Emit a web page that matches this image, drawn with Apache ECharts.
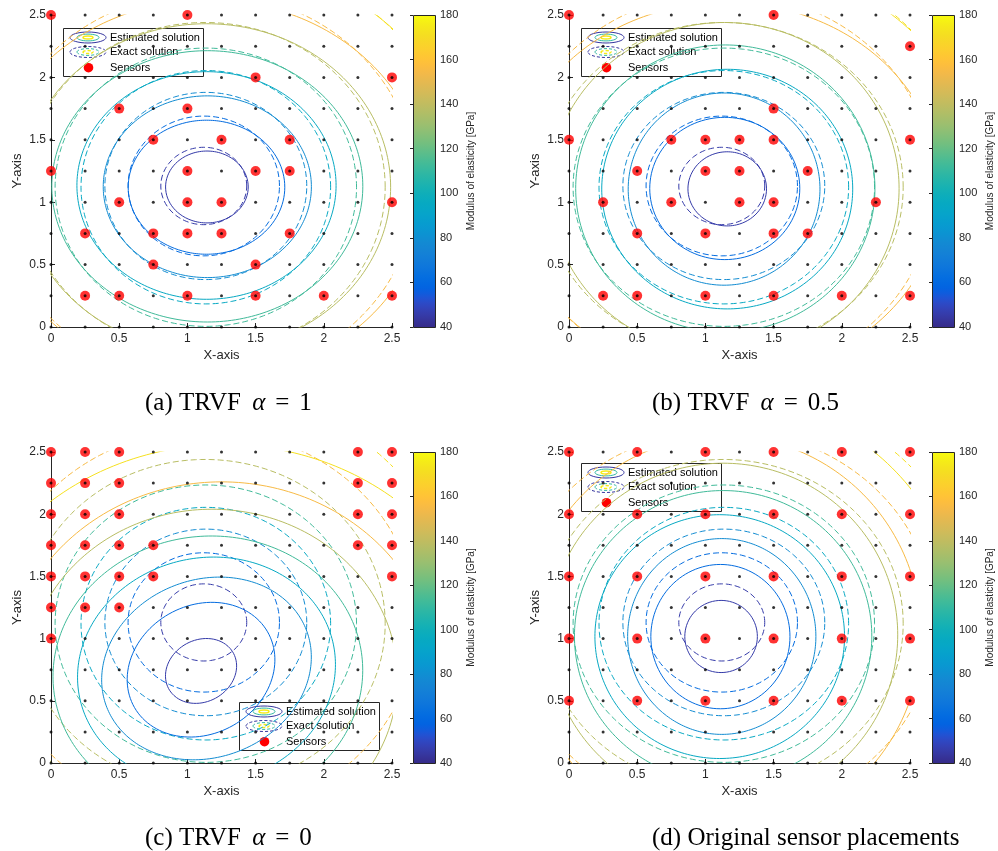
<!DOCTYPE html>
<html>
<head>
<meta charset="utf-8">
<script src="https://cdn.jsdelivr.net/npm/echarts@6/dist/echarts.min.js"></script>
<style>
  html, body { margin: 0; padding: 0; background: #ffffff; }
  #chart { width: 998px; height: 851px; }
</style>
</head>
<body>
<div id="chart"></div>
<script>
// ---------------- data ----------------
// measurement grid (black dots), both directions
const gridPos = [0, 0.25, 0.5, 0.75, 1, 1.25, 1.5, 1.75, 2, 2.25, 2.5];

// contour levels of the modulus of elasticity [GPa]
const contourLevels = [46, 62, 79, 95, 113, 138, 155, 172];
const colorRange = [40, 180];

// contour rings: [level, centerX, centerY, radiusX, radiusY, tiltDeg]
const exactRings = [
  [46, 1.12, 1.13, 0.315, 0.31, 0],
  [62, 1.12, 1.13, 0.555, 0.56, 0],
  [79, 1.135, 1.13, 0.74, 0.75, 0],
  [95, 1.135, 1.12, 0.915, 0.935, 0],
  [113, 1.135, 1.12, 1.105, 1.115, 0],
  [138, 1.13, 1.12, 1.32, 1.32, 0],
  [155, 1.13, 1.13, 1.55, 1.55, 0],
  [172, 1.13, 1.13, 1.86, 1.86, 0]
];
const ringsA = [
  [46, 1.143, 1.122, 0.303, 0.288, 0],
  [62, 1.14, 1.12, 0.574, 0.537, 0],
  [79, 1.146, 1.124, 0.763, 0.728, 0],
  [95, 1.14, 1.134, 0.95, 0.912, 0],
  [113, 1.146, 1.127, 1.14, 1.087, 0],
  [138, 1.14, 1.12, 1.35, 1.31, 0],
  [155, 1.15, 1.10, 1.60, 1.52, 0],
  [172, 1.15, 1.10, 1.90, 1.84, 0]
];
const ringsB = [
  [46, 1.16, 1.107, 0.288, 0.297, 0],
  [62, 1.142, 1.11, 0.55, 0.57, 0],
  [79, 1.137, 1.105, 0.703, 0.77, 0],
  [95, 1.16, 1.105, 0.92, 0.96, 0],
  [113, 1.146, 1.11, 1.097, 1.15, 0],
  [138, 1.14, 1.11, 1.28, 1.33, 0],
  [155, 1.15, 1.10, 1.58, 1.50, 0],
  [172, 1.15, 1.10, 1.88, 1.84, 0]
];
const ringsC = [
  [46, 1.10, 0.74, 0.28, 0.24, 45],
  [62, 1.10, 0.75, 0.58, 0.50, 45],
  [79, 1.14, 0.76, 0.80, 0.70, 35],
  [95, 1.14, 0.74, 0.96, 0.90, 30],
  [113, 1.15, 0.72, 1.14, 1.10, 20],
  [138, 1.18, 0.68, 1.36, 1.36, 0],
  [155, 1.25, 0.65, 1.59, 1.61, 0],
  [172, 1.27, 0.56, 2.0, 2.0, 0]
];
const ringsD = [
  [46, 1.115, 1.017, 0.266, 0.29, 0],
  [62, 1.11, 1.016, 0.51, 0.58, 0],
  [79, 1.12, 1.017, 0.69, 0.787, 0],
  [95, 1.105, 1.016, 0.915, 0.98, 0],
  [113, 1.13, 1.02, 1.09, 1.17, 0],
  [138, 1.13, 1.03, 1.28, 1.38, 0],
  [155, 1.13, 1.03, 1.45, 1.60, 0],
  [172, 1.13, 1.03, 1.75, 1.90, 0]
];

// sensor positions [x, y]
const sensorsA = [
  [0, 2.5], [1, 2.5], [1.5, 2], [2.5, 2], [0.5, 1.75], [1, 1.75],
  [0.75, 1.5], [1.25, 1.5], [1.75, 1.5], [0, 1.25], [1, 1.25], [1.5, 1.25], [1.75, 1.25],
  [0.5, 1], [1, 1], [1.25, 1], [2.5, 1],
  [0.25, 0.75], [0.75, 0.75], [1, 0.75], [1.25, 0.75], [1.75, 0.75],
  [0.75, 0.5], [1.5, 0.5],
  [0.25, 0.25], [0.5, 0.25], [1, 0.25], [1.5, 0.25], [2, 0.25], [2.5, 0.25]
];
const sensorsB = [
  [0, 2.5], [1.5, 2.5], [2.5, 2.25], [1.5, 1.75],
  [0, 1.5], [0.75, 1.5], [1, 1.5], [1.25, 1.5], [1.5, 1.5], [2.5, 1.5],
  [0.5, 1.25], [1, 1.25], [1.25, 1.25], [1.75, 1.25],
  [0.25, 1], [0.75, 1], [1.25, 1], [1.5, 1], [2.25, 1],
  [0.5, 0.75], [1, 0.75], [1.5, 0.75], [1.75, 0.75],
  [0.25, 0.25], [0.5, 0.25], [1, 0.25], [1.5, 0.25], [2, 0.25], [2.5, 0.25]
];
const sensorsC = [
  [0, 2.5], [0.25, 2.5], [0.5, 2.5], [2.25, 2.5], [2.5, 2.5],
  [0, 2.25], [0.25, 2.25], [0.5, 2.25], [2.25, 2.25], [2.5, 2.25],
  [0, 2], [0.25, 2], [0.5, 2], [2.25, 2], [2.5, 2],
  [0, 1.75], [0.25, 1.75], [0.5, 1.75], [0.75, 1.75], [2.25, 1.75], [2.5, 1.75],
  [0, 1.5], [0.25, 1.5], [0.5, 1.5], [0.75, 1.5], [2.5, 1.5],
  [0, 1.25], [0.25, 1.25], [0.5, 1.25],
  [0, 1]
];
const sensorsD = [
  [0, 2.5], [0.5, 2.5], [1, 2.5], [1.5, 2.5], [2, 2.5], [2.5, 2.5],
  [0, 2], [0.5, 2], [1, 2], [1.5, 2], [2, 2], [2.5, 2],
  [0, 1.5], [0.5, 1.5], [1, 1.5], [1.5, 1.5], [2, 1.5], [2.5, 1.5],
  [0, 1], [0.5, 1], [1, 1], [1.5, 1], [2, 1], [2.5, 1],
  [0, 0.5], [0.5, 0.5], [1, 0.5], [1.5, 0.5], [2, 0.5], [2.5, 0.5]
];

const legendLabels = ['Estimated solution', 'Exact solution', 'Sensors'];
const captionTexts = [
  ['(a) TRVF ', '1'],
  ['(b) TRVF ', '0.5'],
  ['(c) TRVF ', '0'],
  ['(d) Original sensor placements', null]
];

// ---------------- colormap (parula) ----------------
const parulaRows = [
  [0.2081,0.1663,0.5292],[0.2116,0.1898,0.5777],[0.2123,0.2138,0.6270],[0.2081,0.2386,0.6771],
  [0.1959,0.2645,0.7279],[0.1707,0.2919,0.7792],[0.1253,0.3242,0.8303],[0.0591,0.3598,0.8683],
  [0.0117,0.3875,0.8820],[0.0060,0.4086,0.8828],[0.0165,0.4266,0.8786],[0.0329,0.4430,0.8720],
  [0.0498,0.4586,0.8641],[0.0629,0.4737,0.8554],[0.0723,0.4887,0.8467],[0.0779,0.5040,0.8384],
  [0.0793,0.5200,0.8312],[0.0749,0.5375,0.8263],[0.0641,0.5570,0.8240],[0.0488,0.5772,0.8228],
  [0.0343,0.5966,0.8199],[0.0265,0.6137,0.8135],[0.0239,0.6287,0.8038],[0.0231,0.6418,0.7913],
  [0.0228,0.6535,0.7768],[0.0267,0.6642,0.7607],[0.0384,0.6743,0.7436],[0.0590,0.6838,0.7254],
  [0.0843,0.6928,0.7062],[0.1133,0.7015,0.6859],[0.1453,0.7098,0.6646],[0.1801,0.7177,0.6424],
  [0.2178,0.7250,0.6193],[0.2586,0.7317,0.5954],[0.3022,0.7376,0.5712],[0.3482,0.7424,0.5473],
  [0.3953,0.7459,0.5244],[0.4420,0.7481,0.5033],[0.4871,0.7491,0.4840],[0.5300,0.7491,0.4661],
  [0.5709,0.7485,0.4494],[0.6099,0.7473,0.4337],[0.6473,0.7456,0.4188],[0.6834,0.7435,0.4044],
  [0.7184,0.7411,0.3905],[0.7525,0.7384,0.3768],[0.7858,0.7356,0.3633],[0.8185,0.7327,0.3498],
  [0.8507,0.7299,0.3360],[0.8824,0.7274,0.3217],[0.9139,0.7258,0.3063],[0.9450,0.7261,0.2886],
  [0.9739,0.7314,0.2666],[0.9938,0.7455,0.2403],[0.9990,0.7653,0.2164],[0.9955,0.7861,0.1967],
  [0.9880,0.8066,0.1794],[0.9789,0.8271,0.1633],[0.9697,0.8481,0.1475],[0.9626,0.8705,0.1309],
  [0.9589,0.8949,0.1132],[0.9598,0.9218,0.0948],[0.9661,0.9514,0.0755],[0.9763,0.9831,0.0538]
];
function parula(t) {
  t = Math.max(0, Math.min(1, t));
  const f = t * (parulaRows.length - 1);
  const i = Math.floor(f);
  const j = Math.min(i + 1, parulaRows.length - 1);
  const w = f - i;
  const c = parulaRows[i].map((v, k) => Math.round(255 * (v + (parulaRows[j][k] - v) * w)));
  return 'rgb(' + c.join(',') + ')';
}
function levelColor(level) {
  return parula((level - colorRange[0]) / (colorRange[1] - colorRange[0]));
}
const colorbarStops = parulaRows.map((r, k) => ({
  offset: k / (parulaRows.length - 1),
  color: 'rgb(' + r.map(v => Math.round(v * 255)).join(',') + ')'
}));

// ---------------- helpers ----------------
function ringPoints(ring) {
  const [, cx, cy, rx, ry, tilt] = ring;
  const th = tilt * Math.PI / 180;
  const n = 240;
  const pts = [];
  for (let k = 0; k <= n; k++) {
    const a = 2 * Math.PI * k / n;
    const ex = rx * Math.cos(a), ey = ry * Math.sin(a);
    pts.push([cx + ex * Math.cos(th) - ey * Math.sin(th), cy + ex * Math.sin(th) + ey * Math.cos(th)]);
  }
  return pts;
}

const AXIS_COLOR = '#262626';
const SANS = 'Liberation Sans, Arial, Helvetica, sans-serif';
const SERIF = '"Liberation Serif", "Times New Roman", serif';

const panels = [
  { rings: ringsA, sensors: sensorsA, grid: { left: 51, top: 15, width: 341, height: 312 },
    cbar: { left: 413, top: 15, width: 22, height: 312 }, legend: [63, 28], caption: [145, 403] },
  { rings: ringsB, sensors: sensorsB, grid: { left: 569, top: 15, width: 341, height: 312 },
    cbar: { left: 932, top: 15, width: 22, height: 312 }, legend: [581, 28], caption: [652, 403] },
  { rings: ringsC, sensors: sensorsC, grid: { left: 51, top: 452, width: 341, height: 311 },
    cbar: { left: 413, top: 452, width: 22, height: 311 }, legend: [239, 702], caption: [145, 838] },
  { rings: ringsD, sensors: sensorsD, grid: { left: 569, top: 452, width: 341, height: 311 },
    cbar: { left: 932, top: 452, width: 22, height: 311 }, legend: [581, 463], caption: [652, 838] }
];

const grids = [], xAxes = [], yAxes = [], series = [], graphics = [];

panels.forEach((p, i) => {
  grids.push(p.grid);
  xAxes.push({
    gridIndex: i, type: 'value', min: 0, max: 2.5, interval: 0.5,
    axisLine: { show: true, onZero: false, lineStyle: { color: AXIS_COLOR, width: 1 } },
    axisTick: { show: true, inside: true, length: 4, lineStyle: { color: AXIS_COLOR } },
    axisLabel: { color: AXIS_COLOR, fontSize: 12, margin: 6, fontFamily: SANS },
    splitLine: { show: false },
    name: 'X-axis', nameLocation: 'middle', nameGap: 22,
    nameTextStyle: { color: AXIS_COLOR, fontSize: 13, fontFamily: SANS }
  });
  yAxes.push({
    gridIndex: i, type: 'value', min: 0, max: 2.5, interval: 0.5,
    axisLine: { show: true, onZero: false, lineStyle: { color: AXIS_COLOR, width: 1 } },
    axisTick: { show: true, inside: true, length: 4, lineStyle: { color: AXIS_COLOR } },
    axisLabel: { color: AXIS_COLOR, fontSize: 12, margin: 5, fontFamily: SANS },
    splitLine: { show: false },
    name: 'Y-axis', nameLocation: 'middle', nameGap: 27,
    nameTextStyle: { color: AXIS_COLOR, fontSize: 13, fontFamily: SANS }
  });

  // exact solution (dashed) and estimated solution (solid)
  exactRings.forEach(r => series.push({
    type: 'line', xAxisIndex: i, yAxisIndex: i, data: ringPoints(r),
    symbol: 'none', clip: true, silent: true, z: 2,
    lineStyle: { color: levelColor(r[0]), width: 1, type: [6, 3] }
  }));
  p.rings.forEach(r => series.push({
    type: 'line', xAxisIndex: i, yAxisIndex: i, data: ringPoints(r),
    symbol: 'none', clip: true, silent: true, z: 2,
    lineStyle: { color: levelColor(r[0]), width: 1, type: 'solid' }
  }));

  // sensors
  series.push({
    type: 'scatter', xAxisIndex: i, yAxisIndex: i, data: p.sensors,
    symbol: 'circle', symbolSize: 10, clip: false, silent: true, z: 3,
    itemStyle: { color: '#ff0000' }
  });
  // measurement grid points
  const dots = [];
  gridPos.forEach(x => gridPos.forEach(y => dots.push([x, y])));
  series.push({
    type: 'scatter', xAxisIndex: i, yAxisIndex: i, data: dots,
    symbol: 'circle', symbolSize: 3, clip: false, silent: true, z: 4,
    itemStyle: { color: '#000000' }
  });
});

// colorbars
panels.forEach((p, i) => {
  const gi = 4 + i;
  grids.push(p.cbar);
  xAxes.push({ gridIndex: gi, type: 'value', min: 0, max: 1, show: false });
  yAxes.push({
    gridIndex: gi, type: 'value', position: 'right', min: colorRange[0], max: colorRange[1], interval: 20,
    axisLine: { show: false },
    axisTick: { show: true, inside: true, length: 3, lineStyle: { color: AXIS_COLOR } },
    axisLabel: { color: AXIS_COLOR, fontSize: 11, margin: 5, fontFamily: SANS },
    splitLine: { show: false },
    name: 'Modulus of elasticity [GPa]', nameLocation: 'middle', nameRotate: 90, nameGap: 31,
    nameTextStyle: { color: AXIS_COLOR, fontSize: 10, fontFamily: SANS }
  });
  series.push({
    type: 'custom', xAxisIndex: gi, yAxisIndex: gi, silent: true, z: 2,
    data: [[0, colorRange[0], colorRange[1]]],
    renderItem: function (params, api) {
      const lo = api.coord([0, api.value(1)]);
      const hi = api.coord([0, api.value(2)]);
      const cs = params.coordSys;
      return {
        type: 'rect',
        shape: { x: Math.round(cs.x) + 0.5, y: Math.round(hi[1]) + 0.5, width: Math.round(cs.width), height: Math.round(lo[1] - hi[1]) },
        style: { fill: new echarts.graphic.LinearGradient(0, 1, 0, 0, colorbarStops), stroke: AXIS_COLOR, lineWidth: 1 }
      };
    }
  });
});

// legends and captions
const iconOuter = parula(0.03), iconMid = parula(0.5), iconInner = parula(0.97);
panels.forEach((p, i) => {
  const [bx, by] = p.legend;
  const ix = bx + 25;
  const rows = [by + 9.5, by + 24, by + 39.7];
  const children = [
    { type: 'rect', shape: { x: bx + 0.5, y: by + 0.5, width: 140, height: 48 }, style: { fill: '#ffffff', stroke: AXIS_COLOR, lineWidth: 1 } }
  ];
  [0, 1].forEach(k => {
    const dash = k === 1 ? [3, 2] : null;
    children.push({ type: 'ellipse', shape: { cx: ix, cy: rows[k], rx: 18, ry: 5.5 }, style: { fill: null, stroke: iconOuter, lineWidth: 1, lineDash: dash } });
    children.push({ type: 'ellipse', shape: { cx: ix, cy: rows[k], rx: 11, ry: 3.4 }, style: { fill: null, stroke: iconMid, lineWidth: 1, lineDash: dash } });
    children.push({ type: 'ellipse', shape: { cx: ix, cy: rows[k], rx: 5, ry: 1.5 }, style: { fill: null, stroke: iconInner, lineWidth: 1.5, lineDash: dash } });
  });
  children.push({ type: 'circle', shape: { cx: ix + 0.5, cy: rows[2], r: 4.8 }, style: { fill: '#ff0000' } });
  legendLabels.forEach((t, k) => children.push({
    type: 'text', x: bx + 47, y: rows[k],
    style: { text: t, fill: '#000000', font: '11px ' + SANS, verticalAlign: 'middle', align: 'left' }
  }));
  graphics.push({ type: 'group', z: 100, children: children });

  const [capX, capY] = p.caption;
  const ct = captionTexts[i];
  const text = ct[1] === null ? ct[0] : ct[0] + '{m|α}{s|=}' + ct[1];
  graphics.push({
    type: 'text', x: capX, y: capY, z: 100,
    style: {
      text: text, fill: '#000000', font: '25px ' + SERIF,
      verticalAlign: 'middle', align: 'left',
      rich: {
        m: { fontStyle: 'italic', fontSize: 25, fontFamily: 'Liberation Serif', padding: [0, 0, 0, 5] },
        s: { fontSize: 25, fontFamily: 'Liberation Serif', padding: [0, 10, 0, 10] }
      }
    }
  });
});

const chart = echarts.init(document.getElementById('chart'));
chart.setOption({
  animation: false,
  backgroundColor: '#ffffff',
  grid: grids,
  xAxis: xAxes,
  yAxis: yAxes,
  series: series,
  graphic: graphics
});
</script>
</body>
</html>
